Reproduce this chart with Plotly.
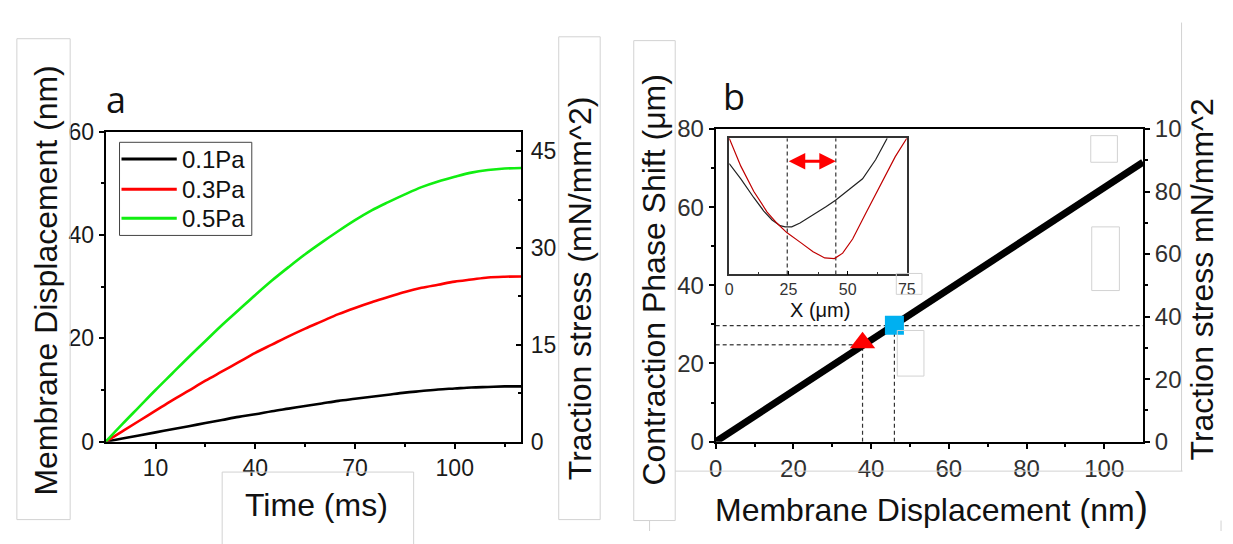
import plotly.graph_objects as go

W, H = 1233, 544
FONT = "Liberation Sans, Arial, sans-serif"

# ---------------- Panel a data ----------------
time_ms = [-5, 0, 5, 10, 15, 20, 25, 30, 35, 40, 45, 50, 55, 60, 65, 70, 75, 80,
           85, 90, 95, 100, 105, 110, 115, 120]
disp_05 = [0, 3.4, 6.7, 10.0, 13.2, 16.4, 19.5, 22.6, 25.5, 28.4, 31.2, 33.8, 36.3,
           38.6, 40.8, 42.9, 44.8, 46.4, 47.9, 49.3, 50.4, 51.3, 52.1, 52.6, 52.9, 53.0]
disp_03 = [0, 2.0, 4.0, 6.0, 8.0, 9.9, 11.8, 13.6, 15.4, 17.2, 18.8, 20.4, 21.9,
           23.3, 24.7, 25.9, 27.0, 28.0, 29.0, 29.8, 30.4, 31.0, 31.4, 31.8, 31.95, 32.0]
disp_01 = [0, 0.6, 1.2, 1.8, 2.4, 3.0, 3.6, 4.2, 4.8, 5.3, 5.9, 6.4, 6.9, 7.4, 7.9,
           8.3, 8.7, 9.1, 9.5, 9.8, 10.1, 10.3, 10.5, 10.6, 10.7, 10.7]
series_names = ["0.1Pa", "0.3Pa", "0.5Pa"]
series_colors = ["#000000", "#ff0000", "#11ee11"]

a_xticks = [10, 40, 70, 100]
a_xminor = [25, 55, 85, 115]
a_yticks = [0, 20, 40, 60]
a_yminor = [10, 30, 50]
a_y2ticks = [0, 15, 30, 45]
a_y2minor = [7.5, 22.5, 37.5]

# ---------------- Panel b data ----------------
membrane_nm = [0, 110]
phase_um = [0, 71.5]
tri_x, tri_y = [37.8], [25.3]
sq_x, sq_y = [46.0], [29.8]
level_sq = 29.7
level_tri = 24.8

b_xticks = [0, 20, 40, 60, 80, 100]
b_xminor = [10, 30, 50, 70, 90]
b_yticks = [0, 20, 40, 60, 80]
b_yminor = [10, 30, 50, 70]
b_y2ticks = [0, 20, 40, 60, 80, 100]
b_y2minor = [10, 30, 50, 70, 90]

# ---------------- Inset data ----------------
inset_black_x = [0, 4.9, 10.4, 14.6, 18.1, 21.5, 23.6, 26.4, 29.9, 35.4, 41.0, 44.9,
                 50.7, 56.3, 61.8, 66.7]
inset_black_y = [81.4, 70.2, 56.3, 46.5, 40.0, 35.8, 34.9, 34.9, 37.7, 43.5, 49.8,
                 54.4, 62.1, 70.2, 84.2, 100]
inset_red_x = [0, 4.9, 10.4, 16.0, 20.1, 24.3, 29.9, 35.4, 40.3, 44.4, 47.9, 52.1,
               57.6, 64.6, 70.1, 75]
inset_red_y = [100, 79.5, 60.9, 45.8, 37.7, 30.7, 23.7, 16.7, 12.1, 11.6, 15.6, 26.0,
               44.7, 67.9, 86.5, 100]
inset_marks = [24.5, 45.0]
arrow_level = 83
inset_xticks = [0, 25, 50, 75]
inset_xminor = [12.5, 37.5, 62.5]


def px(x):
    return x / W


def py(y):
    return 1 - y / H


fig = go.Figure()

# Panel a curves
for name, col, ys in zip(series_names, series_colors, [disp_01, disp_03, disp_05]):
    fig.add_trace(go.Scatter(x=time_ms, y=ys, mode="lines", name=name,
                             line=dict(color=col, width=2.6, shape="spline"),
                             xaxis="x", yaxis="y", showlegend=False))
fig.add_trace(go.Scatter(x=[], y=[], xaxis="x", yaxis="y2", showlegend=False))

# Panel b dashed guides
dash_col = "#333333"
fig.add_trace(go.Scatter(x=[0, 110], y=[level_sq, level_sq], mode="lines",
                         line=dict(color=dash_col, width=1.2, dash="4px,3px"),
                         xaxis="x3", yaxis="y3", showlegend=False))
fig.add_trace(go.Scatter(x=[0, tri_x[0]], y=[level_tri, level_tri], mode="lines",
                         line=dict(color="#555555", width=1.4, dash="4px,3px"),
                         xaxis="x3", yaxis="y3", showlegend=False))
fig.add_trace(go.Scatter(x=[tri_x[0], tri_x[0]], y=[0, level_tri], mode="lines",
                         line=dict(color=dash_col, width=1.2, dash="4px,3px"),
                         xaxis="x3", yaxis="y3", showlegend=False))
fig.add_trace(go.Scatter(x=[sq_x[0], sq_x[0]], y=[0, level_sq], mode="lines",
                         line=dict(color=dash_col, width=1.2, dash="4px,3px"),
                         xaxis="x3", yaxis="y3", showlegend=False))
# Panel b main line
fig.add_trace(go.Scatter(x=membrane_nm, y=phase_um, mode="lines",
                         line=dict(color="black", width=7),
                         xaxis="x3", yaxis="y3", showlegend=False))
fig.add_trace(go.Scatter(x=tri_x, y=tri_y, mode="markers",
                         marker=dict(symbol="triangle-up", size=22, color="#ff0000"),
                         xaxis="x3", yaxis="y3", showlegend=False))
fig.add_trace(go.Scatter(x=sq_x, y=sq_y, mode="markers",
                         marker=dict(symbol="square", size=19, color="#00b0f0"),
                         xaxis="x3", yaxis="y3", showlegend=False))
fig.add_trace(go.Scatter(x=[], y=[], xaxis="x3", yaxis="y4", showlegend=False))

# Inset
for xm in inset_marks:
    fig.add_trace(go.Scatter(x=[xm, xm], y=[0, 100], mode="lines",
                             line=dict(color=dash_col, width=1.2, dash="4px,3px"),
                             xaxis="x5", yaxis="y5", showlegend=False))
fig.add_trace(go.Scatter(x=inset_black_x, y=inset_black_y, mode="lines",
                         line=dict(color="#222222", width=1.2),
                         xaxis="x5", yaxis="y5", showlegend=False))
fig.add_trace(go.Scatter(x=inset_red_x, y=inset_red_y, mode="lines",
                         line=dict(color="#c00000", width=1.2),
                         xaxis="x5", yaxis="y5", showlegend=False))


def axis(**kw):
    base = dict(showline=True, linecolor="black", linewidth=2, showgrid=False,
                zeroline=False, tickcolor="black", tickwidth=2, ticklen=5,
                ticks="outside", tickfont=dict(family=FONT, size=23, color="#1a1a1a"))
    base.update(kw)
    return base


def minor(vals, ticks="outside", ln=3):
    return dict(tickvals=vals, ticks=ticks, ticklen=ln, tickwidth=1.5,
                tickcolor="black", showgrid=False)


b_font = dict(family=FONT, size=24, color="#303030")

fig.update_layout(
    width=W, height=H, margin=dict(l=0, r=0, t=0, b=0),
    paper_bgcolor="white", plot_bgcolor="white", showlegend=False,
    xaxis=axis(domain=[px(100), px(521)], range=[-5, 120], tickvals=a_xticks,
               minor=minor(a_xminor), mirror=True, anchor="y"),
    yaxis=axis(domain=[py(450), py(124)], range=[0, 60], tickvals=a_yticks,
               minor=minor(a_yminor), anchor="x"),
    yaxis2=axis(overlaying="y", side="right", anchor="x", range=[0, 48],
                tickvals=a_y2ticks, ticks="inside", minor=minor(a_y2minor, "inside"),
                ticklabelstandoff=3),
    xaxis3=axis(domain=[px(718), px(1151)], range=[0, 110], tickvals=b_xticks,
                minor=minor(b_xminor), mirror=True, anchor="y3", tickfont=b_font),
    yaxis3=axis(domain=[py(450), py(121)], range=[0, 80], tickvals=b_yticks,
                minor=minor(b_yminor), anchor="x3", tickfont=b_font),
    yaxis4=axis(overlaying="y3", side="right", anchor="x3", range=[0, 100],
                tickvals=b_y2ticks, minor=minor(b_y2minor), tickfont=b_font),
    xaxis5=axis(domain=[px(731.7), px(911.7)], range=[0, 75], tickvals=inset_xticks,
                ticks="inside", ticklen=4, tickwidth=1, linewidth=1.5, linecolor="#333",
                minor=dict(tickvals=inset_xminor, ticks="inside", ticklen=2.5,
                           tickwidth=1, tickcolor="#333"),
                mirror=True, anchor="y5", ticklabelstandoff=0,
                tickfont=dict(family=FONT, size=16, color="#333")),
    yaxis5=axis(domain=[py(274), py(130.7)], range=[0, 100], anchor="x5",
                showticklabels=False, ticks="", linewidth=1.5, linecolor="#333",
                mirror=True),
)

shapes = []
anns = []
GRAY = "#d2d2d2"


def rect(x0, y0, x1, y1, col=GRAY, fill=None, w=1):
    d = dict(type="rect", xref="paper", yref="paper", x0=px(x0), x1=px(x1),
             y0=py(y1), y1=py(y0), line=dict(color=col, width=w), layer="above")
    if fill:
        d["fillcolor"] = fill
    shapes.append(d)


def seg(x0, y0, x1, y1, col=GRAY, w=1):
    shapes.append(dict(type="line", xref="paper", yref="paper", x0=px(x0), x1=px(x1),
                       y0=py(y0), y1=py(y1), line=dict(color=col, width=w),
                       layer="above"))


def text(x, y, s, size=32, rot=0, family=FONT, color="#111", xanchor="center"):
    anns.append(dict(x=px(x), y=py(y), xref="paper", yref="paper", text=s,
                     showarrow=False, textangle=rot, xanchor=xanchor,
                     yanchor="middle", font=dict(family=family, size=size,
                                                 color=color)))


# Panel a text boxes
rect(10, 26, 64, 532)
rect(559, 24, 601, 532)
rect(218, 482, 412, 560)
# Panel b boxes
rect(635, 28, 677, 533)
seg(677, 481, 1191, 481)
seg(1190, 9, 1190, 481)
seg(635, 533, 651, 533)
seg(651, 533, 651, 544)
seg(1230, 533, 1230, 544)
rect(1098, 128, 1125, 156)
rect(1099, 224, 1127, 291)
rect(902, 333, 929, 381)
rect(901, 273, 927, 295)
rect(1190.5, 100, 1202, 132, col="white", fill="white")
seg(1190, 100, 1190, 132)

# Manual legend (panel a)
rect(114, 135, 248, 233, col="#444444")
for i, (name, col) in enumerate(zip(series_names, series_colors)):
    yy = [152.7, 184.5, 215][i]
    seg(116, yy, 172, yy, col=col, w=3)
    text(175, yy, name, size=24, color="#111", xanchor="left")

# Titles
text(110, 90, "a", size=36, family="Open Sans, sans-serif", color="#111")
text(40, 280, "Membrane Displacement (nm)", size=32, rot=-90)
text(580, 288, "Traction stress (mN/mm^2)", size=32, rot=-90)
text(314, 517, "Time (ms)", size=32)

text(737, 87, "b", size=36, family="Open Sans, sans-serif", color="#111")
text(656, 280, "Contraction Phase Shift (μm)", size=32, rot=-90)
text(1211, 279, "Traction stress mN/mm^2", size=32, rot=-90)
text(937, 519, "Membrane Displacement (nm<span style='font-size:40px'>)</span>", size=32)
text(824, 311, "X (μm)", size=20)

# Red double arrow in inset
anns.append(dict(x=inset_marks[1], y=arrow_level, ax=inset_marks[0], ay=arrow_level,
                 xref="x5", yref="y5", axref="x5", ayref="y5", text="",
                 showarrow=True, arrowhead=2, startarrowhead=2, arrowside="end+start",
                 arrowsize=1.1, startarrowsize=1.1, arrowwidth=3, arrowcolor="#ff0000",
                 standoff=0, startstandoff=0))

fig.update_layout(shapes=shapes, annotations=anns)
fig.write_html("out.html")
